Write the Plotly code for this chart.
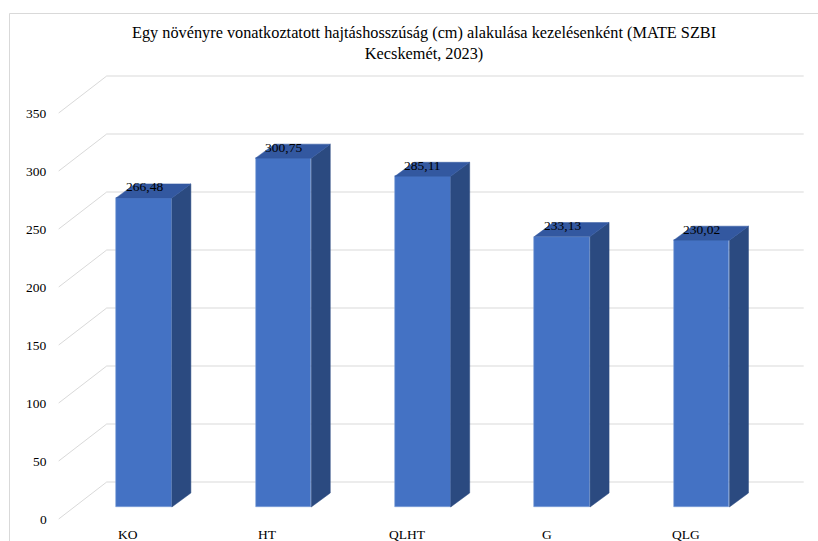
import plotly.graph_objects as go

# Treatments and measured shoot length per plant (cm)
categories = ["KO", "HT", "QLHT", "G", "QLG"]
values = [266.48, 300.75, 285.11, 233.13, 230.02]
y_ticks = [0, 50, 100, 150, 200, 250, 300, 350]

title_text = ("Egy növényre vonatkoztatott hajtáshosszúság (cm) alakulása kezelésenként (MATE SZBI"
              "<br>Kecskemét, 2023)")

# --- pseudo-3D projection helpers -------------------------------------------
W, H = 818, 541
PX_U = 139.4          # pixels per category step
PX_V = 1.16           # pixels per cm
X0_PX, Y0_PX = 144.0, 507.0   # pixel position of category 0 / value 0 on the bar front plane

def du(px):
    return px / PX_U

def dv(px):
    return px / PX_V

BAR_W = 0.4
BAR_DX, BAR_DY = du(19), dv(14)        # bar depth
BACK_DX, BACK_DY = du(32.4), dv(25)    # back wall offset from bar front plane
LBL_DX, LBL_DY = du(-15.6), dv(-12)    # floor front edge offset
U_MIN, U_MAX = -0.5, len(categories) - 0.5

FONT = "Liberation Serif"
FRONT, SIDE, TOP = "#4472C4", "#2B4A80", "#3358A0"
GRID = "#D9D9D9"

fig = go.Figure()

# front faces of the bars
fig.add_trace(go.Bar(
    x=list(range(len(categories))), y=values, width=BAR_W,
    marker=dict(color=FRONT, line=dict(color="#7F9FD8", width=0.6)),
    hoverinfo="skip", showlegend=False,
))

# side and top faces
side_x, side_y, top_x, top_y = [], [], [], []
for i, v in enumerate(values):
    r, l = i + BAR_W / 2, i - BAR_W / 2
    side_x += [r, r + BAR_DX, r + BAR_DX, r, r, None]
    side_y += [0, BAR_DY, v + BAR_DY, v, 0, None]
    top_x += [l, r, r + BAR_DX, l + BAR_DX, l, None]
    top_y += [v, v, v + BAR_DY, v + BAR_DY, v, None]

fig.add_trace(go.Scatter(x=side_x, y=side_y, mode="lines", fill="toself",
                         fillcolor=SIDE, line=dict(color=SIDE, width=0.5),
                         hoverinfo="skip", showlegend=False))
fig.add_trace(go.Scatter(x=top_x, y=top_y, mode="lines", fill="toself",
                         fillcolor=TOP, line=dict(color=TOP, width=0.5),
                         hoverinfo="skip", showlegend=False))

shapes = []
annotations = []

# floor diagonals and back-wall gridlines
for t in y_ticks:
    shapes.append(dict(type="line", xref="x", yref="y", layer="below",
                       x0=U_MIN + LBL_DX, y0=t + LBL_DY,
                       x1=U_MIN + BACK_DX, y1=t + BACK_DY,
                       line=dict(color=GRID, width=1)))
    shapes.append(dict(type="line", xref="x", yref="y", layer="below",
                       x0=U_MIN + BACK_DX, y0=t + BACK_DY,
                       x1=U_MAX + BACK_DX, y1=t + BACK_DY,
                       line=dict(color=GRID, width=1)))
    annotations.append(dict(x=U_MIN + LBL_DX, y=t + LBL_DY, xref="x", yref="y",
                            text=str(t), showarrow=False, xanchor="right",
                            yanchor="middle", xshift=-10,
                            font=dict(family=FONT, size=13.5, color="#000000")))

# category labels
for i, c in enumerate(categories):
    annotations.append(dict(x=i + LBL_DX, y=LBL_DY, xref="x", yref="y",
                            text=c, showarrow=False, xanchor="center",
                            yanchor="top", yshift=-6,
                            font=dict(family=FONT, size=13.5, color="#000000")))

# value labels
for i, v in enumerate(values):
    annotations.append(dict(x=i, y=v, xref="x", yref="y",
                            text=f"{v:.2f}".replace(".", ","), showarrow=False,
                            xanchor="center", yanchor="middle", yshift=11,
                            font=dict(family=FONT, size=13.5, color="#000000")))

# title
annotations.append(dict(x=423.5 / W, y=1 - 21 / H, xref="paper", yref="paper",
                        text=title_text, showarrow=False, xanchor="center",
                        yanchor="top", align="center",
                        font=dict(family=FONT, size=16.3, color="#000000")))

# chart frame
shapes.append(dict(type="rect", xref="paper", yref="paper",
                   x0=9.5 / W, x1=1.2, y0=-0.2, y1=1 - 13.5 / H,
                   line=dict(color=GRID, width=1), layer="below"))

fig.update_layout(
    width=W, height=H,
    margin=dict(l=0, r=0, t=0, b=0),
    paper_bgcolor="white", plot_bgcolor="rgba(0,0,0,0)",
    font=dict(family=FONT),
    xaxis=dict(range=[-X0_PX / PX_U, (W - X0_PX) / PX_U], visible=False, fixedrange=True),
    yaxis=dict(range=[(Y0_PX - H) / PX_V, Y0_PX / PX_V], visible=False, fixedrange=True),
    shapes=shapes, annotations=annotations,
    bargap=0, showlegend=False,
)

fig.write_html("out.html")
